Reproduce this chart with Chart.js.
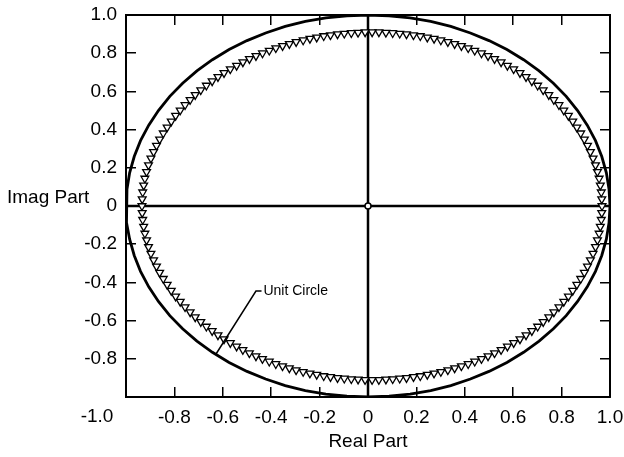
<!DOCTYPE html>
<html>
<head>
<meta charset="utf-8">
<script src="https://cdn.jsdelivr.net/npm/chart.js@4/dist/chart.umd.min.js"></script>
<style>
  html, body { margin:0; padding:0; background:#fff; }
  canvas { display:block; }
</style>
</head>
<body>
<canvas id="chart" width="624" height="457"></canvas>
<script>
// axis ticks (same grid on both axes)
const tickValues  = [-1.0, -0.8, -0.6, -0.4, -0.2, 0, 0.2, 0.4, 0.6, 0.8, 1.0];
const tickLabelsX = ['', '-0.8', '-0.6', '-0.4', '-0.2', '0', '0.2', '0.4', '0.6', '0.8', '1.0'];
const tickLabelsY = ['', '-0.8', '-0.6', '-0.4', '-0.2', '0', '0.2', '0.4', '0.6', '0.8', '1.0'];

// unit circle, upper half (0..180 deg, every 5 deg); lower half is its mirror
const circleX = [1, .996, .985, .966, .940, .906, .866, .819, .766, .707, .643, .574, .5, .423, .342, .259, .174, .087, 0,
                 -.087, -.174, -.259, -.342, -.423, -.5, -.574, -.643, -.707, -.766, -.819, -.866, -.906, -.940, -.966, -.985, -.996, -1];
const circleY = [0, .087, .174, .259, .342, .423, .5, .574, .643, .707, .766, .819, .866, .906, .940, .966, .985, .996, 1,
                 .996, .985, .966, .940, .906, .866, .819, .766, .707, .643, .574, .5, .423, .342, .259, .174, .087, 0];

// triangle markers, upper half (lower half = conjugates)
const poleRe = [.967, .966, .964, .960, .955, .948, .940, .930, .919, .907, .894, .879, .863, .846, .828, .809,
                .789, .768, .747, .724, .701, .677, .653, .628, .602, .576, .550, .523, .496, .469, .441, .414,
                .386, .358, .330, .301, .273, .245, .216, .188, .159, .131, .102, .074, .045, .017,
                -.012, -.041, -.069, -.098, -.126, -.155, -.183, -.212, -.240, -.268, -.297, -.325, -.353, -.381,
                -.408, -.436, -.463, -.490, -.517, -.543, -.569, -.595, -.620, -.644, -.668, -.691, -.714, -.735,
                -.756, -.776, -.795, -.813, -.830, -.846, -.861, -.874, -.886, -.897, -.907, -.915, -.922, -.927,
                -.931, -.933, -.934];
const poleIm = [0, .036, .072, .108, .144, .179, .214, .249, .283, .316, .349, .381, .412, .443, .473, .501,
                .529, .556, .582, .607, .631, .654, .676, .697, .717, .735, .753, .770, .786, .800, .814, .827,
                .838, .849, .859, .868, .876, .883, .890, .895, .900, .903, .906, .908, .910, .910,
                .910, .908, .906, .903, .900, .895, .890, .883, .876, .868, .859, .849, .838, .827,
                .814, .800, .786, .770, .753, .735, .717, .697, .676, .654, .631, .607, .582, .556,
                .529, .501, .473, .443, .412, .381, .349, .316, .283, .249, .214, .179, .144, .108,
                .072, .036, 0];

// zero at the origin
const zeroRe = [0];
const zeroIm = [0];

// "Unit Circle" callout
const noteLineX = [-0.628, -0.463, -0.440];
const noteLineY = [-0.775, -0.445, -0.445];
const noteText  = 'Unit Circle';
const notePos   = [-0.432, -0.445];

const FONT = '"Liberation Sans", Arial, Helvetica, sans-serif';
Chart.defaults.font.family = FONT;
Chart.defaults.color = '#000';

const pts = (xs, ys) => xs.map((v, i) => ({ x: v, y: ys[i] }));

const upperCircle = pts(circleX, circleY);
const circleData  = upperCircle.concat(upperCircle.slice(0, -1).reverse().map(p => ({ x: p.x, y: -p.y })));

const upperPoles = pts(poleRe, poleIm);
const poleData   = upperPoles.concat(upperPoles.slice(1, -1).map(p => ({ x: p.x, y: -p.y })));

const extraText = {
  id: 'extraText',
  afterDraw(chart) {
    const { ctx, scales: { x, y } } = chart;
    ctx.save();
    ctx.fillStyle = '#000';
    ctx.font = '19px ' + FONT;
    ctx.textAlign = 'left';
    ctx.textBaseline = 'alphabetic';
    ctx.fillText('Imag Part', 7, y.getPixelForValue(0) - 3);
    ctx.textAlign = 'center';
    ctx.textBaseline = 'middle';
    ctx.fillText('-1.0', x.getPixelForValue(-1) - 29, x.top + 20);
    ctx.font = '14px ' + FONT;
    ctx.textAlign = 'left';
    ctx.fillText(noteText, x.getPixelForValue(notePos[0]), y.getPixelForValue(notePos[1]));
    ctx.restore();
  }
};

const setTicks = scale => { scale.ticks = tickValues.map(v => ({ value: v })); };

const baseAxis = (pos, size) => ({
  type: 'linear',
  position: pos,
  min: -1, max: 1,
  afterBuildTicks: setTicks,
  afterFit: s => {
    if (s.isHorizontal()) s.height = size; else s.width = size;
    // keep the plot box fixed; labels are allowed to hang into the margins
    s.paddingLeft = s.paddingRight = s.paddingTop = s.paddingBottom = 0;
  },
  border: { display: true, color: '#000', width: 2 },
  grid: { drawOnChartArea: false, drawTicks: true, tickLength: -10, color: '#000', lineWidth: 1.5 },
  ticks: { display: false }
});

const xAxis = baseAxis('bottom', 60);
xAxis.ticks = { display: true, padding: 19, maxRotation: 0, autoSkip: false,
                font: { size: 19 }, callback: (v, i) => tickLabelsX[i] };
xAxis.title = { display: true, text: 'Real Part', font: { size: 19 }, padding: { top: 0, bottom: 4 } };

const yAxis = baseAxis('left', 126);
yAxis.ticks = { display: true, padding: 19, autoSkip: false,
                font: { size: 19 }, callback: (v, i) => tickLabelsY[i] };

const x2Axis = baseAxis('top', 15);
const y2Axis = baseAxis('right', 14);

new Chart(document.getElementById('chart'), {
  type: 'scatter',
  data: {
    datasets: [
      { label: 'zero', data: pts(zeroRe, zeroIm), order: 0,
        pointStyle: 'circle', pointRadius: 3, pointBackgroundColor: '#fff',
        pointBorderColor: '#000', pointBorderWidth: 1.5, showLine: false },
      { label: 'note', data: pts(noteLineX, noteLineY), order: 1, showLine: true,
        borderColor: '#000', borderWidth: 1.5, pointRadius: 0, tension: 0 },
      { label: 'poles', data: poleData, order: 2,
        pointStyle: 'triangle', rotation: 180, pointRadius: 4.5,
        pointBackgroundColor: '#fff', pointBorderColor: '#000', pointBorderWidth: 1.3, showLine: false },
      { label: 'unit circle', data: circleData, order: 3, showLine: true,
        borderColor: '#000', borderWidth: 2.8, pointRadius: 0, tension: 0 },
      { label: 'real axis', data: pts([-1, 1], [0, 0]), order: 4, showLine: true,
        borderColor: '#000', borderWidth: 2.5, pointRadius: 0 },
      { label: 'imag axis', data: pts([0, 0], [-1, 1]), order: 5, showLine: true,
        borderColor: '#000', borderWidth: 2.5, pointRadius: 0 }
    ]
  },
  options: {
    responsive: false,
    animation: false,
    layout: { padding: 0 },
    plugins: { legend: { display: false }, tooltip: { enabled: false } },
    scales: { x: xAxis, y: yAxis, x2: x2Axis, y2: y2Axis }
  },
  plugins: [extraText]
});
</script>
</body>
</html>
